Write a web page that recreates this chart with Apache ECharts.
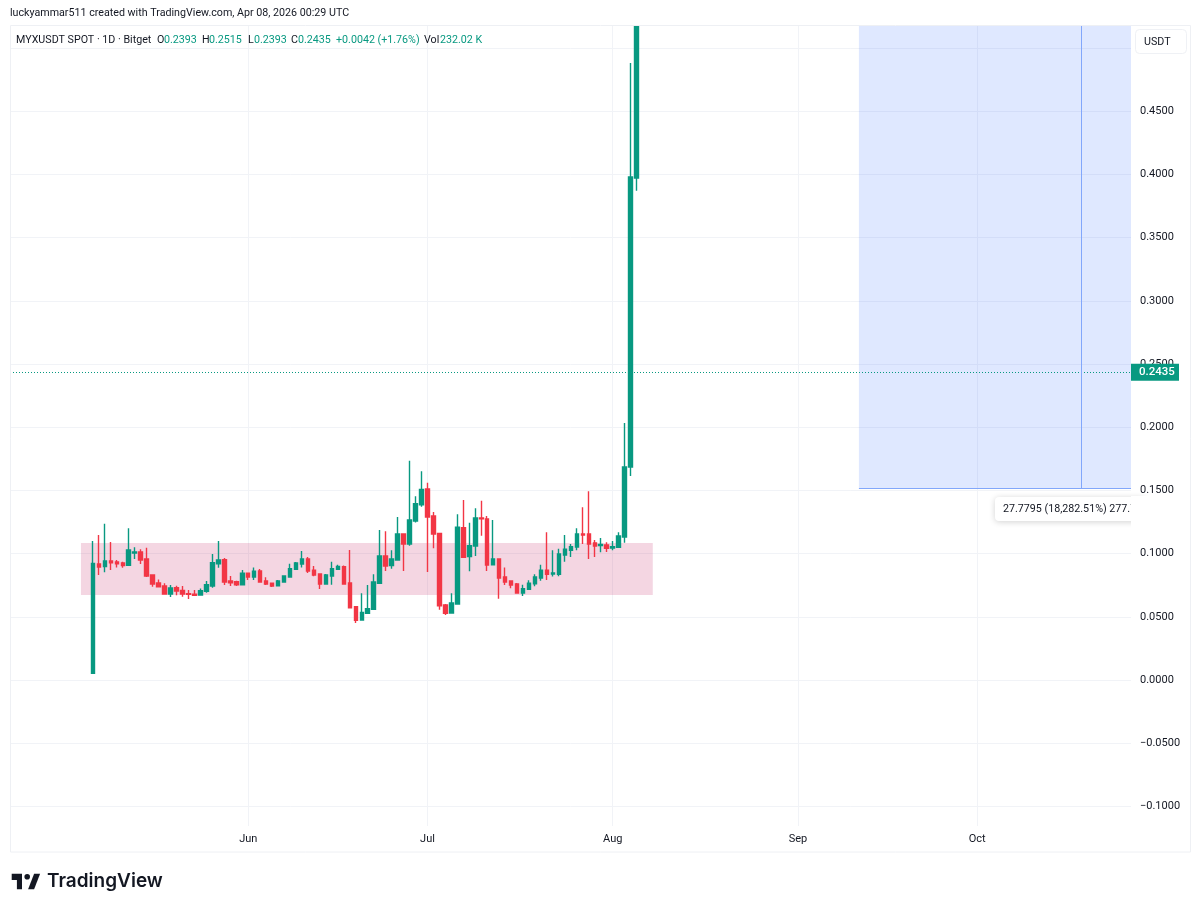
<!DOCTYPE html>
<html><head><meta charset="utf-8">
<style>html,body{margin:0;padding:0;background:#fff}#c{width:1200px;height:910px}</style>
<script src="https://cdn.jsdelivr.net/npm/echarts@6/dist/echarts.min.js"></script>
</head><body><div id="c"></div>
<script>
const dates = [
'2025-05-06','2025-05-07','2025-05-08','2025-05-09','2025-05-10','2025-05-11','2025-05-12','2025-05-13','2025-05-14','2025-05-15','2025-05-16','2025-05-17','2025-05-18','2025-05-19','2025-05-20','2025-05-21','2025-05-22','2025-05-23','2025-05-24','2025-05-25','2025-05-26','2025-05-27','2025-05-28','2025-05-29','2025-05-30','2025-05-31',
'2025-06-01','2025-06-02','2025-06-03','2025-06-04','2025-06-05','2025-06-06','2025-06-07','2025-06-08','2025-06-09','2025-06-10','2025-06-11','2025-06-12','2025-06-13','2025-06-14','2025-06-15','2025-06-16','2025-06-17','2025-06-18','2025-06-19','2025-06-20','2025-06-21','2025-06-22','2025-06-23','2025-06-24','2025-06-25','2025-06-26','2025-06-27','2025-06-28','2025-06-29','2025-06-30',
'2025-07-01','2025-07-02','2025-07-03','2025-07-04','2025-07-05','2025-07-06','2025-07-07','2025-07-08','2025-07-09','2025-07-10','2025-07-11','2025-07-12','2025-07-13','2025-07-14','2025-07-15','2025-07-16','2025-07-17','2025-07-18','2025-07-19','2025-07-20','2025-07-21','2025-07-22','2025-07-23','2025-07-24','2025-07-25','2025-07-26','2025-07-27','2025-07-28','2025-07-29','2025-07-30','2025-07-31',
'2025-08-01','2025-08-02','2025-08-03','2025-08-04','2025-08-05'];
const opens = [
.0053,.0918,.0897,.0941,.0934,.0926,.0907,.1005,.1013,.0957,.0831,.0767,.0744,.0680,.0730,.0709,.0683,.0678,.0672,.0701,.0744,.0920,.0952,.0783,.0778,.0754,
.0844,.0815,.0862,.0783,.0765,.0746,.0775,.0815,.0876,.0918,.0957,.0868,.0839,.0759,.0823,.0876,.0897,.0767,.0580,.0475,.0527,.0559,.0765,.0981,.0905,.0949,.1155,.1076,.1258,.1387,
.1511,.1297,.1160,.0593,.0530,.0601,.1205,.0976,.1060,.1282,.1274,.0912,.0957,.0815,.0783,.0759,.0688,.0717,.0762,.0807,.0868,.0839,.0836,.0989,.1026,.1052,.1155,.1155,.1084,.1063,.1068,.1044,
.1050,.1131,.1685,.3972];
const closes = [
.0923,.0894,.0941,.0928,.0920,.0905,.1028,.1013,.0949,.0823,.0759,.0738,.0680,.0728,.0704,.0680,.0678,.0670,.0707,.0754,.0928,.0949,.0775,.0770,.0754,.0844,
.0815,.0860,.0775,.0759,.0744,.0783,.0823,.0881,.0926,.0957,.0862,.0831,.0759,.0831,.0881,.0899,.0759,.0572,.0472,.0535,.0564,.0775,.0981,.0902,.0957,.1155,.1076,.1266,.1395,.1508,
.1290,.1155,.0588,.0527,.0609,.1208,.0970,.1063,.1282,.1276,.0910,.0957,.0807,.0775,.0752,.0688,.0723,.0765,.0815,.0868,.0836,.0847,.0997,.1034,.1055,.1155,.1147,.1076,.1060,.1073,.1042,.1055,
.1139,.1685,.3979,.5174];
const highs = [
.1100,.1147,.1237,.1092,.0949,.0936,.1200,.1050,.1034,.1047,.0831,.0796,.0765,.0752,.0746,.0744,.0712,.0712,.0723,.0783,.0997,.1100,.0965,.0823,.0786,.0870,
.0849,.0891,.0878,.0812,.0770,.0791,.0828,.0920,.0934,.1021,.0973,.0902,.0841,.0839,.0936,.0912,.0905,.1028,.0585,.0686,.0752,.0836,.1187,.1176,.1026,.1290,.1155,.1735,.1453,.1651,
.1561,.1329,.1163,.0601,.0686,.1311,.1424,.1245,.1358,.1419,.1297,.1266,.0963,.0891,.0786,.0767,.0754,.0789,.0836,.0912,.1168,.1026,.1039,.1147,.1076,.1200,.1366,.1493,.1108,.1123,.1089,.1100,
.1168,.2033,.4881,.5174];
const lows = [
.0053,.0831,.0852,.0870,.0891,.0889,.0905,.0957,.0918,.0815,.0738,.0733,.0678,.0657,.0670,.0659,.0641,.0665,.0670,.0691,.0730,.0889,.0752,.0744,.0744,.0752,
.0791,.0791,.0773,.0752,.0736,.0744,.0773,.0815,.0873,.0891,.0847,.0820,.0720,.0757,.0754,.0870,.0759,.0570,.0451,.0472,.0522,.0556,.0762,.0862,.0881,.0947,.0862,.1063,.1247,.1371,
.0854,.1042,.0556,.0514,.0527,.0599,.0965,.0860,.0981,.1142,.0862,.0910,.0643,.0752,.0725,.0686,.0665,.0712,.0741,.0786,.0791,.0818,.0820,.0936,.0973,.1026,.1076,.0957,.0973,.1010,.1013,.1026,
.1047,.1086,.1614,.3871];
const priceTicks = [-0.1,-0.05,0,0.05,0.1,0.15,0.2,0.25,0.3,0.35,0.4,0.45,0.5];
const monthTicks = ['2025-06-01','2025-07-01','2025-08-01','2025-09-01','2025-10-01'];
const monthNames = {5:'Jun',6:'Jul',7:'Aug',8:'Sep',9:'Oct'};
const lastPrice = 0.2435;
const xRange = ['2025-04-22 03:00','2025-10-26 18:00'];
const yRange = [-0.1155,0.5174];
const zone = {from:'2025-05-04',to:'2025-08-07 17:00',low:0.0672,high:0.1084};
const projection = {from:'2025-09-11 05:00',mid:'2025-10-18 10:00',low:0.1519};
const legendParts = [
 ['MYXUSDT SPOT · 1D · Bitget',16,'#131722'],['O',157,'#131722'],['0.2393',164,'#089981'],['H',202,'#131722'],['0.2515',209,'#089981'],
 ['L',248,'#131722'],['0.2393',254,'#089981'],['C',291,'#131722'],['0.2435',298,'#089981'],['+0.0042 (+1.76%)',336,'#089981'],['Vol',424,'#131722'],['232.02 K',440,'#089981']];
const UI = 'Roboto,sans-serif', G='#089981', R='#f23645', GL='#f1f3f7';
const ohlc = dates.map((d,i)=>[d,opens[i],closes[i],lows[i],highs[i]]);
const chart = echarts.init(document.getElementById('c'),null,{renderer:'canvas'});
const txt=(t,x,y,fill,size)=>({type:'text',z:100,style:{text:t,x,y,fill,font:`${size||10.7}px ${UI}`,textVerticalAlign:'middle'}});
chart.setOption({
 animation:false,backgroundColor:'#fff',
 grid:{left:10,right:69,top:26,bottom:84},
 xAxis:{type:'time',min:xRange[0],max:xRange[1],
  axisLine:{show:false},axisTick:{show:false},splitLine:{show:false},
  axisLabel:{margin:8,color:'#131722',fontFamily:UI,fontSize:11,hideOverlap:false,showMinLabel:false,showMaxLabel:false,
    formatter:v=>{const d=new Date(v);return d.getDate()===1?(monthNames[d.getMonth()]||''):''}}},
 yAxis:{type:'value',position:'right',min:yRange[0],max:yRange[1],scale:true,
  axisLine:{show:false},
  axisTick:{show:false,customValues:priceTicks},
  splitLine:{show:true,lineStyle:{color:GL,width:1}},
  axisLabel:{customValues:priceTicks,margin:9,color:'#131722',fontFamily:UI,fontSize:11,
    formatter:v=>(v<0?'−':'')+Math.abs(v).toFixed(4)}},
 series:[
 {type:'line',z:0,data:[],silent:true,
  markLine:{silent:true,symbol:'none',z:0,label:{show:false},lineStyle:{color:GL,type:'solid',width:1},
    data:monthTicks.map(m=>({xAxis:m}))}},
 {type:'candlestick',z:2,data:ohlc,barWidth:4,clip:true,
  itemStyle:{color:G,color0:R,borderColor:G,borderColor0:R,borderWidth:1.4},
  markArea:{silent:true,z:1,label:{show:false},data:[
    [{coord:[zone.from,zone.high],itemStyle:{color:'rgba(200,50,110,0.2)'}},{coord:[zone.to,zone.low]}],
    [{coord:[projection.from,yRange[1]],itemStyle:{color:'rgba(41,98,255,0.15)'}},{coord:[xRange[1],projection.low]}]
  ]},
  markLine:{silent:true,symbol:'none',z:3,precision:4,data:[
    [{coord:[xRange[0],lastPrice],lineStyle:{color:G,type:[1,2],width:1},
      label:{show:true,position:'end',distance:0,formatter:'0.2435',color:'#fff',backgroundColor:G,fontFamily:UI,fontSize:11.5,fontWeight:500,padding:[3,4,2,8],width:36}},
     {coord:[xRange[1],lastPrice]}],
    [{coord:[projection.from,projection.low],lineStyle:{color:'#82a7fb',type:'solid',width:1},label:{show:false}},{coord:[xRange[1],projection.low]}],
    [{coord:[projection.mid,projection.low],lineStyle:{color:'#82a7fb',type:'solid',width:1},label:{show:false}},{coord:[projection.mid,yRange[1]]}]
  ]}
 }],
 graphic:[
  {type:'rect',z:90,shape:{x:10.5,y:25.5,width:1180,height:826.5},style:{fill:'none',stroke:'#eef0f4',lineWidth:1}},
  {type:'rect',z:92,shape:{x:995,y:497,width:150,height:24,r:4},style:{fill:'#fff',shadowBlur:6,shadowColor:'rgba(0,0,0,0.18)',shadowOffsetY:1}},
  txt('27.7795 (18,282.51%) 277.795',1003,509,'#131722'),
  {type:'rect',z:101,shape:{x:1131,y:496,width:30,height:32},style:{fill:'#fff'}},
  {type:'rect',z:101,shape:{x:1135.5,y:29.5,width:51,height:24,r:4},style:{fill:'#fff',stroke:'#eff1f5',lineWidth:1}},
  Object.assign(txt('USDT',1144,42,'#131722'),{z:102}),
  txt('luckyammar511 created with TradingView.com, Apr 08, 2026 00:29 UTC',10,13,'#131722'),
  ...legendParts.map(p=>txt(p[0],p[1],40,p[2])),
  {type:'polygon',z:100,shape:{points:[[22,873.7],[11.7,873.7],[11.7,879.9],[16.9,879.9],[16.9,889.2],[22,889.2]]},style:{fill:'#131722'}},
  {type:'polygon',z:100,shape:{points:[[34.1,889.2],[28.1,889.2],[34.1,873.7],[40.1,873.7]]},style:{fill:'#131722'}},
  {type:'circle',z:100,shape:{cx:27.2,cy:876.8,r:2.8},style:{fill:'#131722'}},
  {type:'text',z:100,style:{text:'TradingView',x:47,y:881,fill:'#131722',font:`600 19px Inter,sans-serif`,textVerticalAlign:'middle'}}
 ]
});
</script></body></html>
